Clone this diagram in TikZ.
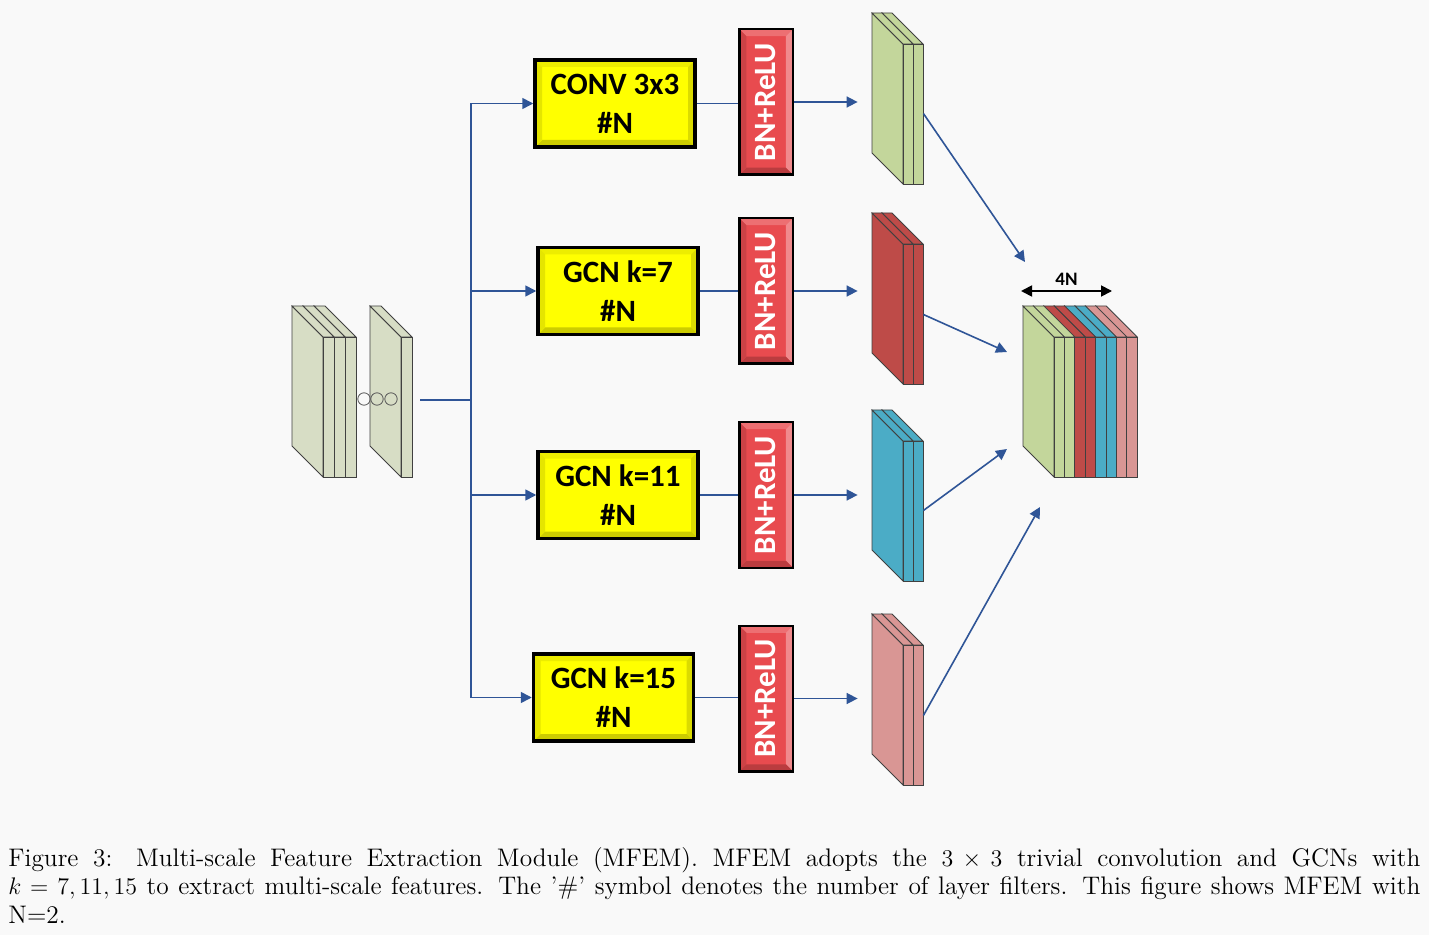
\documentclass[tikz,border=0pt]{standalone}
\usepackage{amsmath}
\usepackage{graphicx}
\usepackage{fontspec}
\newfontfamily\calibfont{Carlito}
\usepackage{tikz}
\usetikzlibrary{arrows.meta, calc}

\definecolor{bgcol}{HTML}{F9F9F9}
\definecolor{linkblue}{RGB}{47,85,151}
\definecolor{inputF}{HTML}{D7DDC5}
\definecolor{greenF}{HTML}{C3D69B}
\definecolor{redF}{HTML}{BE4B48}
\definecolor{blueF}{HTML}{4BACC6}
\definecolor{pinkF}{HTML}{D99694}
\definecolor{convY}{HTML}{FFFF00}
\definecolor{bnR}{HTML}{E84B4F}

% one feature slab: back top-left x, y, thickness, colour
\newcommand{\slab}[4]{%
  \filldraw[slabline, fill=#4] (#1,#2) -- ++(31,31) -- ++(0,140) -- ++(-31,-31) -- cycle;
  \filldraw[slabline, fill=#4] (#1,#2) -- ++(#3,0) -- ++(31,31) -- ++(-#3,0) -- cycle;
  \filldraw[slabline, fill=#4] ($(#1,#2)+(31,31)$) rectangle ++(#3,140);
}

\tikzset{
  bevel/.style n args={4}{path picture={
    \path (path picture bounding box.north west) coordinate (pNW)
          (path picture bounding box.north east) coordinate (pNE)
          (path picture bounding box.south east) coordinate (pSE)
          (path picture bounding box.south west) coordinate (pSW);
    \path ([shift={(3.5pt,-3.5pt)}]pNW) coordinate (iNW)
          ([shift={(-3.5pt,-3.5pt)}]pNE) coordinate (iNE)
          ([shift={(-3.5pt,3.5pt)}]pSE) coordinate (iSE)
          ([shift={(3.5pt,3.5pt)}]pSW) coordinate (iSW);
    \fill[#1] (pNW) -- (pNE) -- (iNE) -- (iNW) -- cycle;
    \fill[#2] (pNE) -- (pSE) -- (iSE) -- (iNE) -- cycle;
    \fill[#3] (pSE) -- (pSW) -- (iSW) -- (iSE) -- cycle;
    \fill[#4] (pSW) -- (pNW) -- (iNW) -- (iSW) -- cycle;
  }},
  convbox/.style={rectangle, draw=black, line width=1.75pt, fill=convY,
                  minimum width=80pt, minimum height=43.5pt, inner sep=0pt,
                  align=center, font=\calibfont\bfseries\fontsize{15.5}{19.5}\selectfont,
                  bevel={convY!93!black}{convY!86!black}{convY!80!black}{convY!90!black}},
  bnbox/.style={rectangle, draw=black, line width=1.25pt, fill=bnR,
                minimum width=26.75pt, minimum height=72.75pt, inner sep=0pt,
                text=white, font=\calibfont\bfseries\fontsize{15.5}{16}\selectfont,
                bevel={bnR!80!white}{bnR!65!white}{bnR!80!black}{bnR!88!black}},
  featbox/.style={rectangle, inner sep=0pt, minimum width=25.5pt, minimum height=85.5pt},
  slabline/.style={draw=black!75, line width=0.4pt},
  link/.style={draw=linkblue, line width=0.8pt},
  arrow/.style={link, -{Triangle[length=5.5pt, width=5.5pt]}},
  widtharrow/.style={{Triangle[length=5.5pt, width=5.5pt]}-{Triangle[length=5.5pt, width=5.5pt]},
                     draw=black, line width=0.9pt},
  caption/.style={inner sep=0pt, text width=706pt, align=justify,
                  font=\fontsize{12.7}{14.25}\selectfont},
}

\begin{document}
\begin{tikzpicture}[x=0.5pt, y=-0.5pt]

  \fill[bgcol] (0,0) rectangle (1429,935);
  \useasboundingbox (0,0) rectangle (1429,935);

  % --- Input feature map ---
  \foreach \x in {314,303,292} \slab{\x}{306}{11}{inputF};
  \slab{370}{306}{11}{inputF}
  \foreach \x in {364,377,391} \draw[slabline, draw=black!65] (\x,399) circle[radius=3.1pt];

  % --- Branch outputs ---
  \foreach \x in {882,872} \slab{\x}{13}{10}{greenF};
  \foreach \x in {882,872} \slab{\x}{213}{10}{redF};
  \foreach \x in {882,872} \slab{\x}{410}{10}{blueF};
  \foreach \x in {882,872} \slab{\x}{614}{10}{pinkF};

  % --- Concatenation ---
  \foreach \i/\c in {7/pinkF,6/pinkF,5/blueF,4/blueF,3/redF,2/redF,1/greenF,0/greenF}
    \slab{1023+10.4*\i}{306}{10.4}{\c};

  % --- Nodes ---
  \node[convbox] (conv)  at (615,103.5) {CONV 3x3\\\#N};
  \node[convbox] (gcn7)  at (618,291)   {GCN k=7\\\#N};
  \node[convbox] (gcn11) at (618,495)   {GCN k=11\\\#N};
  \node[convbox] (gcn15) at (613.5,697.5) {GCN k=15\\\#N};

  \node[bnbox] (bn1) at (766,102)   {\rotatebox{90}{BN+ReLU}};
  \node[bnbox] (bn2) at (766,291)   {\rotatebox{90}{BN+ReLU}};
  \node[bnbox] (bn3) at (766,495)   {\rotatebox{90}{BN+ReLU}};
  \node[bnbox] (bn4) at (766,698.5) {\rotatebox{90}{BN+ReLU}};

  \node[featbox] (feat1) at (897.5,98.5) {};
  \node[featbox] (feat2) at (897.5,298.5) {};
  \node[featbox] (feat3) at (897.5,495.5) {};
  \node[featbox] (feat4) at (897.5,699.5) {};

  \coordinate (inp)   at (420,400);
  \coordinate (split) at (471,400);
  \coordinate (cat1) at (1025,262);
  \coordinate (cat2) at (1007,352);
  \coordinate (cat3) at (1007,449);
  \coordinate (cat4) at (1040,507);
  \coordinate (wL) at (1021,291);
  \coordinate (wR) at (1112,291);

  % --- Edges ---
  \draw[link] (inp) -- (split);
  \draw[arrow] (split) |- (conv.west);
  \draw[arrow] (split) |- (gcn7.west);
  \draw[arrow] (split) |- (gcn11.west);
  \draw[arrow] (split) |- (gcn15.west);

  \draw[link] (conv.east)  -- (conv.east -| bn1.west);
  \draw[link] (gcn7.east)  -- (gcn7.east -| bn2.west);
  \draw[link] (gcn11.east) -- (gcn11.east -| bn3.west);
  \draw[link] (gcn15.east) -- (gcn15.east -| bn4.west);

  \draw[arrow, shorten >=7pt] (bn1.east) -- (bn1.east -| feat1.west);
  \draw[arrow, shorten >=7pt] (bn2.east) -- (bn2.east -| feat2.west);
  \draw[arrow, shorten >=7pt] (bn3.east) -- (bn3.east -| feat3.west);
  \draw[arrow, shorten >=7pt] (bn4.east) -- (bn4.east -| feat4.west);

  \draw[arrow] ([yshift=-7.5pt]feat1.east) -- (cat1);
  \draw[arrow] ([yshift=-8pt]feat2.east) -- (cat2);
  \draw[arrow] ([yshift=-7.5pt]feat3.east) -- (cat3);
  \draw[arrow] ([yshift=-8pt]feat4.east) -- (cat4);

  \draw[widtharrow] (wL) -- node[above=1.5pt, inner sep=1pt,
    font=\calibfont\bfseries\fontsize{9.5}{10}\selectfont] (wlabel) {4N} (wR);

  % --- Caption ---
  \node[caption, anchor=north west] (cap) at (8,847)
    {Figure 3: Multi-scale Feature Extraction Module (MFEM). MFEM adopts the
     $3 \times 3$ trivial convolution and GCNs with\linebreak
     $k = 7, 11, 15$ to extract multi-scale features. The '\#' symbol denotes
     the number of layer filters. This figure shows MFEM with\linebreak
     N=2.};

\end{tikzpicture}
\end{document}
